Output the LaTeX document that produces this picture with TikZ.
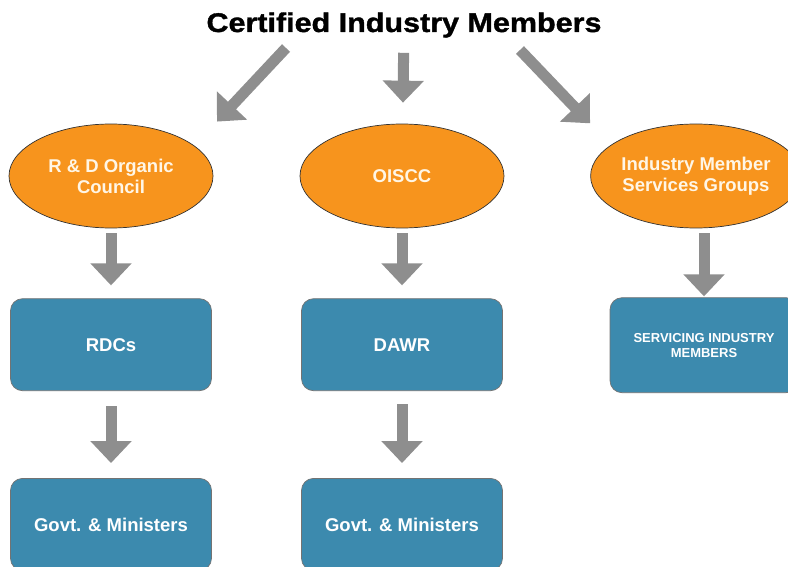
\documentclass[tikz,border=0pt]{standalone}
\usepackage{fontspec}
\setmainfont{Liberation Sans}
\newfontfamily\widefont{Liberation Sans}[FakeStretch=1.13,FakeBold=1.3]
\usetikzlibrary{arrows.meta,shapes.geometric,positioning}

\definecolor{councilorange}{RGB}{247,148,29}
\definecolor{bodyblue}{RGB}{60,138,174}
\definecolor{arrowgray}{RGB}{142,142,142}
\definecolor{cream}{RGB}{255,246,230}

\begin{document}
\begin{tikzpicture}[x=1pt,y=-1pt,
    bigarrow/.style={draw=arrowgray,line width=11pt,
                     -{Triangle[width=40pt,length=22pt]}},
    council/.style={ellipse,draw=black!80,line width=0.7pt,fill=councilorange,
                    minimum width=204pt,minimum height=104pt,inner sep=0pt,
                    text=cream,align=center,
                    font=\bfseries\fontsize{18.5}{21}\selectfont},
    body/.style={rectangle,rounded corners=12pt,draw=black!55,line width=0.7pt,
                 fill=bodyblue,minimum width=201pt,minimum height=92pt,
                 text=white,align=center,
                 font=\bfseries\fontsize{18.5}{22}\selectfont}]

  \useasboundingbox (0,0) rectangle (788,567);
  \clip (0,0) rectangle (788,567);

  \node[anchor=base,inner sep=0pt,
        font=\widefont\bfseries\fontsize{27}{30}\selectfont] (cert) at (404,32)
        {Certified Industry Members};

  \node[council]                      (rdo)   at (111,176) {R \& D Organic\\Council};
  \node[council]                      (oiscc) at (402,176) {OISCC};
  \node[council, minimum width=206pt] (imsg)  at (696,176) {Industry Member\\Services Groups};

  \node[body, below=70pt of rdo]   (rdc)  {RDCs};
  \node[body, below=70pt of oiscc] (dawr) {DAWR};
  \node[body, below=69pt of imsg, xshift=8pt, minimum width=188pt,
        minimum height=95pt, font=\bfseries\fontsize{13}{15}\selectfont] (serv)
        {SERVICING INDUSTRY\\MEMBERS};
  \node[body, below=87pt of rdc]   (gova) {Govt. \& Ministers};
  \node[body, below=87pt of dawr]  (govb) {Govt. \& Ministers};

  \coordinate (certl) at (286,48);
  \coordinate (certr) at (520,50);

  \path (certl) edge[bigarrow, shorten >=33pt] (rdo.20)
        (cert)  edge[bigarrow, shorten <=15pt, shorten >=21pt] (oiscc)
        (certr) edge[bigarrow, shorten >=30pt] (imsg.160)
        (rdo)   edge[bigarrow, shorten <=5pt, shorten >=13pt] (rdc)
        (oiscc) edge[bigarrow, shorten <=5pt, shorten >=13pt] (dawr)
        (imsg.south -| serv.north) edge[bigarrow, shorten <=5pt, shorten >=1pt] (serv.north)
        (rdc)   edge[bigarrow, shorten <=15pt, shorten >=15pt] (gova)
        (dawr)  edge[bigarrow, shorten <=13pt, shorten >=15pt] (govb);
\end{tikzpicture}
\end{document}
